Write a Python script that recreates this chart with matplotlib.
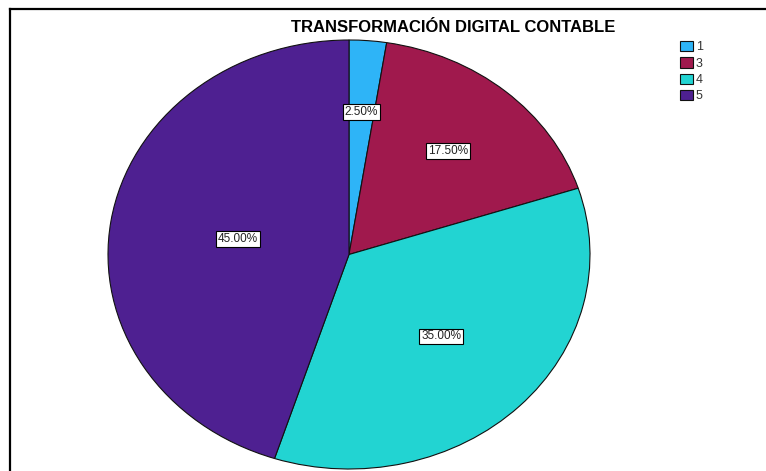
import numpy as np
import matplotlib
matplotlib.use("Agg")
import matplotlib.pyplot as plt
from matplotlib.lines import Line2D

plt.rcParams['font.family'] = ['Liberation Sans', 'DejaVu Sans']

title = "TRANSFORMACIÓN DIGITAL CONTABLE"
categories = ["1", "3", "4", "5"]
percentages = [2.50, 17.50, 35.00, 45.00]
colors = ["#2eb4f7", "#a0194d", "#22d4d2", "#4e2091"]

W, H = 766, 471
fig = plt.figure(figsize=(W / 100, H / 100), dpi=100)
fig.patch.set_facecolor("white")

# pie axes occupies ellipse bounding box
ax = fig.add_axes([108 / W, 2 / H, 482 / W, 429 / H])
wedges, _ = ax.pie(percentages, colors=colors, startangle=90, counterclock=False,
                   wedgeprops=dict(edgecolor="#111111", linewidth=0.8))
ax.set_aspect('auto')
ax.set_xlim(-1, 1)
ax.set_ylim(-1, 1)
ax.axis('off')

# labels at slice centroids
for w, p in zip(wedges, percentages):
    t1, t2 = np.radians(w.theta1), np.radians(w.theta2)
    half = (t2 - t1) / 2
    mid = (t1 + t2) / 2
    r = (2 / 3) * np.sin(half) / half if half > 0 else 0
    ax.text(r * np.cos(mid), r * np.sin(mid), f"{p:.2f}%", ha='center', va='center',
            fontsize=8.5, color="#222222",
            bbox=dict(boxstyle='square,pad=0.15', fc='white', ec='black', lw=0.8))

# title
fig.text(453.5 / W, (H - 32) / H, title, ha='center', va='baseline',
         fontsize=12, fontweight='bold', color='black')

# legend
leg = fig.legend(wedges, categories, loc='upper left',
                 bbox_to_anchor=(680 / W, (H - 41) / H), frameon=False,
                 fontsize=9, handlelength=1.05, handleheight=0.9,
                 handletextpad=0.2, labelspacing=0.3, borderpad=0,
                 borderaxespad=0)
for t in leg.get_texts():
    t.set_color("#333333")

# frame lines (top and left)
fig.add_artist(Line2D([10 / W, 1.0], [(H - 9) / H, (H - 9) / H], transform=fig.transFigure,
                      color='black', linewidth=1.6))
fig.add_artist(Line2D([10 / W, 10 / W], [0, (H - 9) / H], transform=fig.transFigure,
                      color='black', linewidth=1.6))

fig.savefig("out.png", dpi=100)
